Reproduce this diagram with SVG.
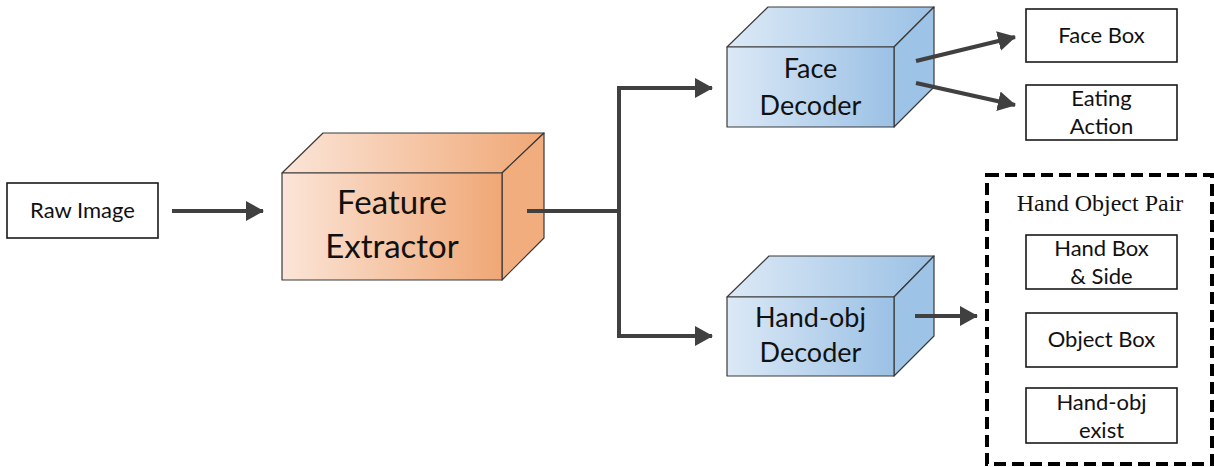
<svg xmlns="http://www.w3.org/2000/svg" width="1214" height="467" viewBox="0 0 1214 467">
  <defs>
    <linearGradient id="orangeFront" x1="0" y1="0" x2="1" y2="0">
      <stop offset="0" stop-color="#fbe5d8"/>
      <stop offset="1" stop-color="#f0a775"/>
    </linearGradient>
    <linearGradient id="blueFront" x1="0" y1="0" x2="1" y2="0">
      <stop offset="0" stop-color="#dce9f6"/>
      <stop offset="1" stop-color="#9bc1e5"/>
    </linearGradient>
    <marker id="arrow" viewBox="0 0 18 20" refX="17" refY="10" markerWidth="18" markerHeight="20" markerUnits="userSpaceOnUse" orient="auto">
      <path d="M0,0 L18,10 L0,20 Z" fill="#404040"/>
    </marker>
    <style>
      .box { fill: #ffffff; stroke: #1a1a1a; stroke-width: 1.6; }
      .face { stroke: #3a3a3a; stroke-width: 1.2; stroke-linejoin: round; }
      .lbl { font-family: Lato, "Open Sans", "Liberation Sans", sans-serif; fill: #111111; text-anchor: middle; }
      .s20 { font-size: 22px; }
      .s24 { font-size: 27px; }
      .s30 { font-size: 33px; }
      .conn { fill: none; stroke: #404040; stroke-width: 4; }
      .title { font-family: "Liberation Serif", "Times New Roman", serif; font-size: 24px; fill: #111111; text-anchor: middle; }
    </style>
  </defs>

  <!-- Raw Image -->
  <g id="raw-image">
    <rect class="box" x="7" y="183" width="151" height="55"/>
    <text class="lbl s20" x="82.5" y="218">Raw Image</text>
  </g>

  <!-- Feature Extractor block -->
  <g id="feature-extractor">
    <polygon class="face" fill="url(#orangeFront)" points="282,173 323,133 544,133 502,173"/>
    <polygon class="face" fill="#f2ad7e" points="502,173 544,133 544,238 502,280"/>
    <rect class="face" fill="url(#orangeFront)" x="282" y="173" width="220" height="107"/>
    <text class="lbl s30" x="392" y="214">Feature</text>
    <text class="lbl s30" x="392" y="258">Extractor</text>
  </g>

  <!-- Face Decoder block -->
  <g id="face-decoder">
    <polygon class="face" fill="url(#blueFront)" points="727,47 768,7 934,7 894,47"/>
    <polygon class="face" fill="#9dc3e6" points="894,47 934,7 934,87 894,127"/>
    <rect class="face" fill="url(#blueFront)" x="727" y="47" width="167" height="80"/>
    <text class="lbl s24" x="810.5" y="78">Face</text>
    <text class="lbl s24" x="810.5" y="115">Decoder</text>
  </g>

  <!-- Hand-obj Decoder block -->
  <g id="hand-obj-decoder">
    <polygon class="face" fill="url(#blueFront)" points="727,297 769,256 934,256 894,297"/>
    <polygon class="face" fill="#9dc3e6" points="894,297 934,256 934,336 894,376"/>
    <rect class="face" fill="url(#blueFront)" x="727" y="297" width="167" height="79"/>
    <text class="lbl s24" x="810.5" y="327">Hand-obj</text>
    <text class="lbl s24" x="810.5" y="362">Decoder</text>
  </g>

  <!-- Face outputs -->
  <g id="face-box">
    <rect class="box" x="1026" y="9" width="151" height="53"/>
    <text class="lbl s20" x="1101.5" y="43">Face Box</text>
  </g>
  <g id="eating-action">
    <rect class="box" x="1026" y="85" width="151" height="55"/>
    <text class="lbl s20" x="1101.5" y="106">Eating</text>
    <text class="lbl s20" x="1101.5" y="134">Action</text>
  </g>

  <!-- Hand Object Pair group -->
  <g id="hand-object-pair">
    <rect x="987" y="175" width="225" height="289" fill="none" stroke="#000000" stroke-width="4" stroke-dasharray="12,6"/>
    <text class="title" x="1100" y="211">Hand Object Pair</text>
  </g>
  <g id="hand-box-side">
    <rect class="box" x="1026" y="235" width="151" height="54"/>
    <text class="lbl s20" x="1101.5" y="256">Hand Box</text>
    <text class="lbl s20" x="1101.5" y="284">&amp; Side</text>
  </g>
  <g id="object-box">
    <rect class="box" x="1026" y="313" width="151" height="54"/>
    <text class="lbl s20" x="1101.5" y="347">Object Box</text>
  </g>
  <g id="hand-obj-exist">
    <rect class="box" x="1026" y="388" width="151" height="55"/>
    <text class="lbl s20" x="1101.5" y="410">Hand-obj</text>
    <text class="lbl s20" x="1101.5" y="438">exist</text>
  </g>

  <!-- connectors -->
  <g id="connectors">
    <line class="conn" x1="172" y1="211" x2="263" y2="211" marker-end="url(#arrow)"/>
    <path class="conn" d="M527,211 H619"/>
    <path class="conn" d="M619,88 V336"/>
    <line class="conn" x1="617" y1="88" x2="712" y2="88" marker-end="url(#arrow)"/>
    <line class="conn" x1="617" y1="336" x2="712" y2="336" marker-end="url(#arrow)"/>
    <line class="conn" x1="916" y1="61" x2="1015" y2="37" marker-end="url(#arrow)"/>
    <line class="conn" x1="916" y1="83" x2="1015" y2="105" marker-end="url(#arrow)"/>
    <line class="conn" x1="915" y1="316" x2="977" y2="316" marker-end="url(#arrow)"/>
  </g>
</svg>
